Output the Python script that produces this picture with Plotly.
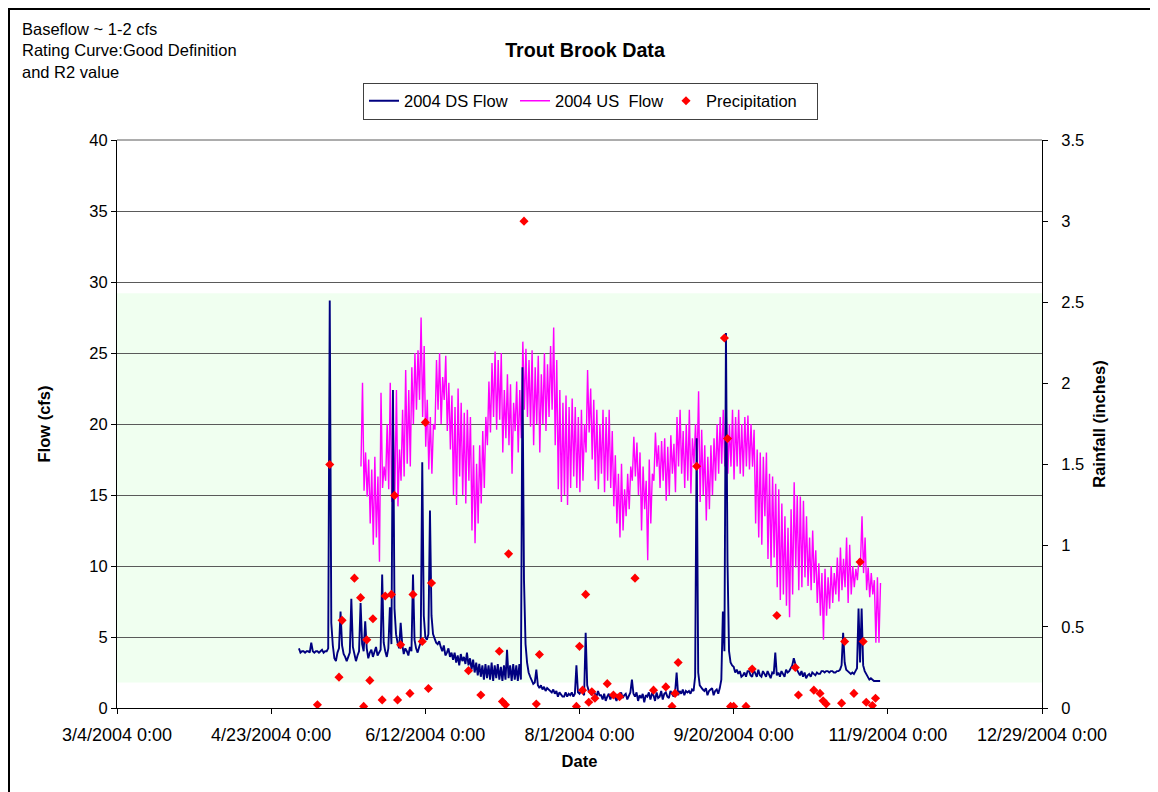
import pandas as pd
import plotly.graph_objects as go

# ---------------- data ----------------
# Downstream flow (cfs), two readings per day (00:00, 12:00) starting 2004-05-02
ds_start = "2004-05-02 00:00"
ds_flow = [
    4.2, 3.9, 4.0, 4.0, 3.9, 4.0, 4.0, 3.9, 4.6, 4.0,   # 5/2 - 5/6
    3.9, 4.0, 4.0, 3.9, 4.0, 4.1, 3.9, 4.0, 4.0, 4.2,   # 5/7 - 5/11
    28.7, 6.0, 4.4, 3.5, 3.3, 3.9, 4.2, 6.8, 4.4, 3.8,  # 5/12 - 5/16
    3.6, 3.3, 3.6, 3.9, 7.7, 4.3, 3.8, 3.3, 3.7, 4.0,   # 5/17 - 5/21
    7.4, 4.5, 4.0, 6.1, 4.2, 3.5, 3.9, 4.1, 3.6, 4.0,   # 5/22 - 5/26
    4.3, 3.7, 3.9, 4.1, 9.4, 4.6, 4.0, 3.6, 4.2, 7.1,   # 5/27 - 5/31
    4.5, 22.4, 7.0, 5.2, 4.6, 4.2, 6.0, 4.5, 3.8, 4.2,  # 6/1 - 6/5
    4.0, 3.7, 4.3, 4.0, 9.4, 4.8, 4.2, 3.9, 4.3, 4.6,   # 6/6 - 6/10
    17.3, 6.5, 5.0, 4.8, 5.2, 13.9, 6.5, 5.2, 4.9, 4.6, # 6/11 - 6/15
    4.5, 4.7, 4.3, 4.0, 4.4, 3.7, 3.9, 4.2, 3.6, 3.9,   # 6/16 - 6/20
    3.4, 3.9, 3.2, 3.7, 3.0, 3.8, 3.3, 3.6, 3.1, 3.9,   # 6/21 - 6/25
    3.0, 3.5, 2.7, 3.4, 2.5, 3.2, 2.3, 3.1, 2.2, 3.0,   # 6/26 - 6/30
    2.0, 3.1, 2.1, 3.0, 2.0, 3.2, 1.9, 3.0, 2.1, 3.1,   # 7/1 - 7/5
    2.0, 2.9, 1.9, 3.0, 2.0, 4.1, 2.1, 3.0, 1.9, 3.1,   # 7/6 - 7/10
    2.0, 3.0, 1.9, 3.1, 2.0, 24.0, 9.0, 4.5, 3.2, 2.5,  # 7/11 - 7/15
    2.2, 1.9, 1.7, 1.8, 2.7, 1.6, 1.4, 1.6, 1.3, 1.5,   # 7/16 - 7/20
    1.2, 1.4, 1.3, 1.2, 1.1, 1.3, 1.0, 1.2, 0.8, 1.1,   # 7/21 - 7/25
    0.9, 0.8, 0.8, 1.1, 0.8, 1.0, 0.9, 1.1, 0.8, 1.0,   # 7/26 - 7/30
    3.0, 1.1, 1.0, 1.2, 1.1, 0.9, 5.3, 1.6, 1.2, 1.0,   # 7/31 - 8/4
    0.9, 1.2, 1.0, 0.8, 1.2, 0.9, 0.9, 0.6, 1.0, 0.5,   # 8/5 - 8/9
    0.8, 1.0, 0.6, 0.9, 1.0, 0.7, 0.5, 0.9, 0.8, 1.1,   # 8/10 - 8/14
    0.7, 0.9, 1.0, 0.6, 0.8, 1.1, 2.0, 1.0, 0.8, 1.1,   # 8/15 - 8/19
    0.5, 0.9, 0.7, 1.0, 0.4, 0.9, 0.8, 1.1, 0.6, 1.0,   # 8/20 - 8/24
    0.9, 0.5, 1.1, 0.7, 0.8, 1.2, 0.6, 1.0, 1.1, 0.8,   # 8/25 - 8/29
    0.7, 1.2, 1.0, 0.8, 1.1, 2.5, 0.9, 1.2, 1.0, 1.3,   # 8/30 - 9/3
    0.9, 1.2, 1.1, 1.2, 1.0, 1.3, 1.2, 2.2, 19.0, 2.5,  # 9/4 - 9/8
    1.6, 1.4, 1.3, 1.2, 1.4, 0.9, 1.2, 1.3, 1.4, 0.9,   # 9/9 - 9/13
    1.2, 1.3, 1.0, 1.4, 2.0, 6.8, 4.0, 26.4, 10.3, 4.0, # 9/14 - 9/18
    3.2, 3.0, 2.9, 2.5, 2.7, 2.4, 2.6, 2.2, 2.3, 2.5,   # 9/19 - 9/23
    2.2, 2.6, 2.6, 2.3, 2.2, 2.7, 2.5, 2.2, 2.7, 2.3,   # 9/24 - 9/28
    2.2, 2.6, 2.4, 2.2, 2.6, 2.3, 2.1, 2.5, 2.4, 3.9,   # 9/29 - 10/3
    2.3, 2.5, 2.2, 2.6, 2.4, 2.2, 2.7, 2.5, 2.6, 2.8,   # 10/4 - 10/8
    3.0, 3.5, 3.0, 2.7, 2.5, 2.3, 2.6, 2.2, 2.5, 2.1,   # 10/9 - 10/13
    2.3, 2.4, 2.2, 2.5, 2.4, 2.3, 2.5, 2.4, 2.4, 2.6,   # 10/14 - 10/18
    2.6, 2.5, 2.6, 2.6, 2.5, 2.6, 2.6, 2.5, 2.5, 2.6,   # 10/19 - 10/23
    2.6, 2.7, 3.0, 5.3, 3.2, 2.7, 2.6, 2.5, 2.4, 2.5,   # 10/24 - 10/28
    2.4, 2.6, 2.8, 7.0, 3.2, 7.0, 3.0, 2.6, 2.4, 2.2,   # 10/29 - 11/2
    2.0, 2.1, 2.0, 1.9, 1.9, 1.9, 1.9, 1.9,             # 11/3 - 11/6
]

# Upstream flow (cfs): daily low (early morning) and daily high (afternoon), from 2004-05-22
us_start = "2004-05-22"
us_high = [
    22.9, 18.0, 17.5, 16.8, 17.7, 16.3, 22.2, 17.0, 20.0, 22.9,
    19.5, 22.4, 18.2, 21.0, 23.8, 22.4, 24.0, 25.0, 25.2, 27.5,
    25.5, 21.7, 20.5, 20.0, 24.5, 25.0, 23.3, 24.8, 22.9, 22.0,
    21.2, 22.5, 21.5, 20.8, 21.0, 20.5, 18.5, 17.2, 18.5, 19.5,
    20.5, 23.0, 24.3, 25.1, 24.5, 25.0, 22.4, 23.5, 22.8, 21.5,
    23.0, 22.4, 25.8, 25.3, 24.5, 25.2, 24.0, 24.8, 23.5, 25.0,
    24.2, 25.5, 26.8, 24.5, 22.4, 21.5, 22.0, 21.2, 21.8, 21.2,
    20.5, 21.0, 20.0, 23.8, 22.5, 21.7, 21.0, 20.0, 21.0, 20.5,
    21.0, 19.5, 17.8, 16.5, 17.2, 15.4, 16.5, 17.0, 19.1, 18.7,
    18.0, 17.0, 16.0, 17.5, 16.5, 19.4, 18.5, 18.8, 19.0, 18.4,
    19.2, 18.6, 20.5, 21.0, 19.5, 20.0, 21.0, 19.0, 20.0, 22.3,
    19.6, 18.5, 17.7, 18.5, 19.0, 20.0, 20.5, 21.0, 20.5, 20.0,
    21.0, 20.5, 21.0, 20.0, 20.5, 20.6, 20.0, 19.6, 18.2, 18.0,
    17.7, 18.0, 16.5, 16.3, 15.8, 15.4, 14.4, 13.5, 12.7, 14.0,
    15.9, 15.0, 14.9, 14.6, 13.5, 12.0, 12.5, 11.1, 10.2, 9.5,
    9.8, 9.2, 10.0, 9.5, 10.6, 11.3, 10.5, 12.0, 11.5, 10.0,
    9.8, 10.5, 13.5, 12.0, 9.9, 9.5, 9.0, 9.2, 8.8,
]
us_low = [
    17.0, 15.3, 14.9, 13.0, 11.5, 12.0, 10.3, 15.5, 16.0, 15.4,
    14.5, 15.0, 14.2, 16.0, 16.3, 17.2, 17.0, 20.0, 21.0, 21.7,
    20.5, 18.4, 16.8, 16.5, 19.6, 21.0, 20.0, 21.7, 19.5, 18.2,
    15.0, 14.3, 16.3, 15.0, 14.4, 16.0, 12.5, 11.6, 13.0, 14.4,
    15.5, 18.5, 19.4, 20.5, 19.6, 20.3, 18.0, 19.0, 18.5, 16.5,
    19.5, 18.0, 19.0, 21.0, 20.5, 19.8, 18.5, 20.0, 18.0, 20.0,
    19.5, 20.5, 21.0, 18.5, 15.4, 14.5, 15.0, 14.3, 15.5, 16.3,
    15.5, 15.2, 16.0, 18.0, 19.4, 17.5, 16.0, 15.4, 16.5, 15.2,
    16.0, 15.5, 14.2, 13.0, 12.0, 12.5, 13.5, 14.0, 16.0, 16.3,
    15.0, 12.5, 14.0, 10.4, 13.0, 16.0, 17.0, 15.5, 16.0, 14.6,
    15.0, 16.5, 15.2, 17.0, 16.5, 15.5, 16.0, 15.1, 17.2, 17.0,
    14.5, 15.0, 13.2, 14.0, 15.0, 16.0, 16.5, 17.2, 17.0, 16.5,
    17.0, 16.1, 17.0, 16.5, 16.3, 17.0, 16.8, 17.0, 13.0, 12.0,
    11.5, 13.5, 10.5, 9.9, 10.6, 8.5, 7.6, 8.0, 7.2, 6.4,
    8.0, 9.9, 8.3, 8.5, 9.2, 8.6, 8.3, 8.8, 7.4, 6.5,
    4.8, 6.5, 7.0, 7.4, 8.0, 7.5, 8.3, 8.5, 7.4, 8.0,
    8.5, 9.0, 10.2, 9.5, 8.3, 7.8, 8.0, 4.6, 4.6,
]

# Daily precipitation (inches)
precip_dates = [
    "2004-05-08", "2004-05-12", "2004-05-15", "2004-05-16", "2004-05-20",
    "2004-05-22", "2004-05-23", "2004-05-24", "2004-05-25", "2004-05-26",
    "2004-05-29", "2004-05-30", "2004-06-01", "2004-06-02", "2004-06-03",
    "2004-06-04", "2004-06-07", "2004-06-08", "2004-06-11", "2004-06-12",
    "2004-06-13", "2004-06-14", "2004-06-26", "2004-06-30", "2004-07-06",
    "2004-07-07", "2004-07-08", "2004-07-09", "2004-07-14", "2004-07-18",
    "2004-07-19", "2004-07-31", "2004-08-01", "2004-08-02", "2004-08-03",
    "2004-08-04", "2004-08-05", "2004-08-06", "2004-08-10", "2004-08-12",
    "2004-08-14", "2004-08-19", "2004-08-25", "2004-08-29", "2004-08-31",
    "2004-09-01", "2004-09-02", "2004-09-08", "2004-09-17", "2004-09-18",
    "2004-09-19", "2004-09-20", "2004-09-24", "2004-09-26", "2004-10-04",
    "2004-10-10", "2004-10-11", "2004-10-16", "2004-10-18", "2004-10-19",
    "2004-10-20", "2004-10-25", "2004-10-26", "2004-10-29", "2004-10-31",
    "2004-11-01", "2004-11-02", "2004-11-04", "2004-11-05",
]
precip_in = [
    0.02, 1.50, 0.19, 0.54, 0.80,
    0.68, 0.01, 0.42, 0.17, 0.55,
    0.05, 0.69, 0.70, 1.31, 0.05,
    0.39, 0.09, 0.70, 0.41, 1.76,
    0.12, 0.77, 0.23, 0.08, 0.35,
    0.04, 0.02, 0.95, 3.00, 0.025,
    0.33, 0.01, 0.38, 0.11, 0.70,
    0.035, 0.10, 0.06, 0.15, 0.08,
    0.07, 0.80, 0.11, 0.13, 0.01,
    0.09, 0.28, 1.49, 2.28, 1.66,
    0.01, 0.01, 0.01, 0.24, 0.57,
    0.25, 0.08, 0.11, 0.09, 0.045,
    0.025, 0.03, 0.41, 0.09, 0.90,
    0.41, 0.035, 0.015, 0.06,
]

x_tick_dates = ["2004-03-04", "2004-04-23", "2004-06-12", "2004-08-01",
                "2004-09-20", "2004-11-09", "2004-12-29"]
x_tick_text = ["3/4/2004 0:00", "4/23/2004 0:00", "6/12/2004 0:00", "8/1/2004 0:00",
               "9/20/2004 0:00", "11/9/2004 0:00", "12/29/2004 0:00"]

# ---------------- build series ----------------
ds_time = pd.date_range(ds_start, periods=len(ds_flow), freq="12h")

us_days = pd.date_range(us_start, periods=len(us_high), freq="D")
us_time, us_vals = [], []
for d, lo, hi in zip(us_days, us_low, us_high):
    us_time += [d + pd.Timedelta(hours=3), d + pd.Timedelta(hours=15)]
    us_vals += [lo, hi]

FONT = "Liberation Sans, Arial, sans-serif"
W, H = 1150, 784
L, T, PW, PH = 109, 132, 925, 568

fig = go.Figure()
fig.add_trace(go.Scatter(
    x=us_time, y=us_vals, mode="lines", name="2004 US  Flow",
    line=dict(color="#FF00FF", width=1.4), legendrank=2))
fig.add_trace(go.Scatter(
    x=ds_time, y=ds_flow, mode="lines", name="2004 DS Flow",
    line=dict(color="#000080", width=1.9), legendrank=1))
fig.add_trace(go.Scatter(
    x=pd.to_datetime(precip_dates), y=precip_in, mode="markers", name="Precipitation",
    marker=dict(symbol="diamond", color="#FF0000", size=7), yaxis="y2", legendrank=3))

fig.update_layout(
    width=W, height=H,
    margin=dict(l=L, r=W - L - PW, t=T, b=H - T - PH),
    paper_bgcolor="white", plot_bgcolor="white",
    font=dict(family=FONT, size=16.5, color="black"),
    showlegend=True,
    legend=dict(orientation="h", x=(355 - L) / PW, y=(T + PH - 74.5) / PH,
                xanchor="left", yanchor="top",
                bordercolor="#404040", borderwidth=1, bgcolor="white",
                font=dict(size=16.5), itemwidth=30, entrywidth=106,
                tracegroupgap=0),
    title=dict(text="<b>Trout Brook Data</b>", x=577 / W, xanchor="center",
               xref="container", yref="container", y=1 - 42 / H, yanchor="middle",
               font=dict(size=19.7, family=FONT)),
    xaxis=dict(type="date", range=["2004-03-04", "2004-12-29"],
               tickmode="array", tickvals=x_tick_dates, ticktext=x_tick_text,
               ticks="outside", ticklen=5, tickcolor="black", ticklabelstandoff=5,
               showline=True, linecolor="black", linewidth=1,
               showgrid=False, zeroline=False,
               title=dict(text="<b>Date</b>", standoff=11, font=dict(size=16.5)),
               tickfont=dict(size=18)),
    yaxis=dict(range=[0, 40], dtick=5, ticks="outside", ticklen=5, tickcolor="black",
               showline=True, linecolor="black", linewidth=1,
               showgrid=True, gridcolor="#5a5a5a", gridwidth=1, zeroline=False,
               title=dict(text="<b>Flow (cfs)</b>", standoff=34, font=dict(size=16.5)),
               tickfont=dict(size=16.5)),
    yaxis2=dict(range=[0, 3.5], dtick=0.5, overlaying="y", side="right",
                ticks="outside", ticklen=5, tickcolor="black", ticklabelstandoff=10,
                showline=True, linecolor="black", linewidth=1,
                showgrid=False, zeroline=False,
                title=dict(text="<b>Rainfall (inches)</b>", standoff=10, font=dict(size=16.5)),
                tickfont=dict(size=16.5)),
)

# light green band behind the data
fig.add_shape(type="rect", xref="paper", yref="y", x0=0, x1=1, y0=1.8, y1=29.2,
              fillcolor="#F0FFF0", line=dict(width=0), layer="below")
# top border of plot area
fig.add_shape(type="line", xref="paper", yref="paper", x0=0, x1=1, y0=1, y1=1,
              line=dict(color="#5a5a5a", width=1))
# outer chart frame
fig.add_shape(type="rect", xref="paper", yref="paper",
              x0=(1 - L) / PW, x1=1.3, y0=-0.3, y1=(T + PH - 1) / PH,
              line=dict(color="black", width=2), fillcolor="rgba(0,0,0,0)")

fig.add_annotation(
    text="Baseflow ~ 1-2 cfs<br>Rating Curve:Good Definition<br>and R2 value",
    xref="paper", yref="paper", x=(12 - L) / PW, y=(T + PH - 9.5) / PH,
    xanchor="left", yanchor="top", align="left", showarrow=False,
    font=dict(size=16.5, family=FONT))

fig.write_html("out.html")
